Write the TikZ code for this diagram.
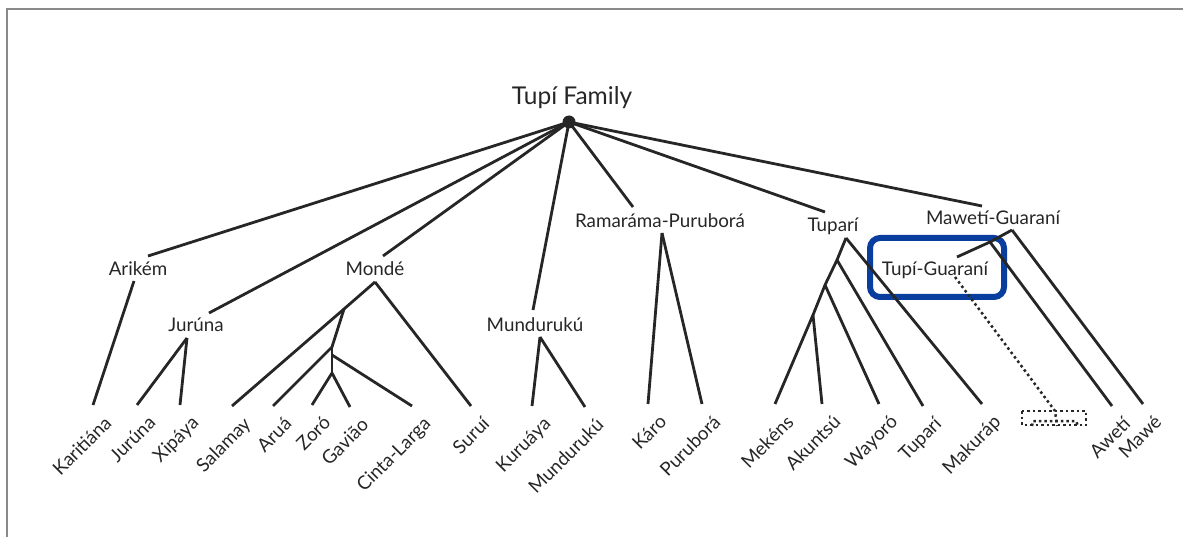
\documentclass[tikz,border=0pt]{standalone}
\usepackage{fontspec}
\setmainfont{Lato}
\usetikzlibrary{positioning}
\definecolor{ink}{HTML}{262626}
\definecolor{boxblue}{RGB}{10,62,158}
\definecolor{rule}{HTML}{8A8A8A}
\tikzstyle{title} = [inner sep=1pt,text=ink,font=\fontsize{24.5}{26}\selectfont]
\tikzstyle{group} = [inner sep=1pt,text=ink,font=\fontsize{18.8}{20}\selectfont]
\tikzstyle{lang} = [inner sep=1pt,text=ink,xshift=10pt,yshift=-8pt,rotate=45,anchor=north east,font=\fontsize{18.8}{20}\selectfont]
\tikzstyle{root} = [circle,fill=ink,inner sep=0,minimum size=13pt]
\tikzstyle{branch} = [-,line width=2.8pt,draw=ink]
\tikzstyle{hidden} = [-,line width=2.5pt,draw=ink,dash pattern=on 2.5pt off 3pt]
\tikzstyle{focus} = [draw=boxblue,line width=6pt,rounded corners=10pt,minimum width=134pt,minimum height=59pt]
\tikzstyle{frame} = [line width=1.5pt,draw=rule]
\def \lo {405}

\begin{document}
\begin{tikzpicture}[x=1pt,y=-1pt]
  \useasboundingbox (0,0) rectangle (1183,537);
  \draw[frame] (7,537) -- (7,9) -- (1183,9);
  % family and its branches
  \node[title] (family) at (572,98) {Tupí Family};
  \node[root] (tupi) at (569,122) {};
  \node[group] (arikem) at (138,269) {Arikém};
  \node[group] (jurunagrp) at (196,325) {Jurúna};
  \node[group] (monde) at (375,269) {Mondé};
  \node[group] (mundurukugrp) at (535,325) {Mundurukú};
  \node[group] (ramarama) at (660,221) {Ramaráma-Puruborá};
  \node[group] (taparigrp) at (833,226) {Tuparí};
  \node[group] (maweti) at (993,218) {Mawetí-Guaraní};
  \node[group] (tupiguarani) at (935,270) {Tupí-Guaraní};
  \node[focus] (tgbox) at (937,267.5) {};
  \coordinate (arikem-t) at (148,256);
  \coordinate (arikem-b) at (134,281);
  \coordinate (jurunagrp-t) at (209,313);
  \coordinate (jurunagrp-b) at (187,338);
  \coordinate (monde-t) at (383,256);
  \coordinate (monde-b) at (375,282);
  \coordinate (mundurukugrp-t) at (533,310);
  \coordinate (mundurukugrp-b) at (540,337);
  \coordinate (ramarama-t) at (633,207);
  \coordinate (ramarama-b) at (662,233);
  \coordinate (taparigrp-t) at (825,212);
  \coordinate (taparigrp-b) at (846,238);
  \coordinate (maweti-t) at (982,206);
  \coordinate (maweti-b) at (1012,230);
  \coordinate (tupiguarani-t) at (957,257);
  \coordinate (tupiguarani-b) at (955,277);
  % inner splits
  \coordinate (m1) at (344,309);
  \coordinate (m2) at (332,347);
  \coordinate (m3) at (332,355);
  \coordinate (m4) at (332,373);
  \coordinate (t1) at (837,260);
  \coordinate (t2) at (825,285);
  \coordinate (t3) at (813,315);
  \coordinate (g1) at (990,242);
  % leaves
  \coordinate (karitiana) at (93,\lo);
  \coordinate (jurunalf) at (137,\lo);
  \coordinate (xipaya) at (180,\lo);
  \coordinate (salamay) at (232,406);
  \coordinate (arua) at (273,406);
  \coordinate (zoro) at (312,\lo);
  \coordinate (gaviao) at (350,407);
  \coordinate (cintalarga) at (412,406);
  \coordinate (surui) at (471,406);
  \coordinate (kuruaya) at (532,406);
  \coordinate (mundurukulf) at (585,407);
  \coordinate (karo) at (648,404);
  \coordinate (purubora) at (702,404);
  \coordinate (mekens) at (775,404);
  \coordinate (akuntsu) at (822,404);
  \coordinate (wayoro) at (879,404);
  \coordinate (tuparilf) at (923,406);
  \coordinate (makurap) at (982,404);
  \coordinate (hole) at (1055,411);
  \coordinate (aweti) at (1112,406);
  \coordinate (mawe) at (1143,404);
  \node[lang] at (karitiana) {Karitiána};
  \node[lang] at (jurunalf) {Jurúna};
  \node[lang] at (xipaya) {Xipáya};
  \node[lang] at (salamay) {Salamay};
  \node[lang] at (arua) {Aruá};
  \node[lang] at (zoro) {Zoró};
  \node[lang] at (gaviao) {Gavião};
  \node[lang] at (cintalarga) {Cinta-Larga};
  \node[lang] at (surui) {Suruí};
  \node[lang] at (kuruaya) {Kuruáya};
  \node[lang] at (mundurukulf) {Mundurukú};
  \node[lang] at (karo) {Káro};
  \node[lang] at (purubora) {Puruborá};
  \node[lang] at (mekens) {Mekéns};
  \node[lang] at (akuntsu) {Akuntsú};
  \node[lang] at (wayoro) {Wayoró};
  \node[lang] at (tuparilf) {Tuparí};
  \node[lang] at (makurap) {Makuráp};
  \node[lang] at (aweti) {Awetí};
  \node[lang] at (mawe) {Mawé};
  % edges
  \draw[branch] (tupi.center) -- (arikem-t);
  \draw[branch] (tupi.center) -- (jurunagrp-t);
  \draw[branch] (tupi.center) -- (monde-t);
  \draw[branch] (tupi.center) -- (mundurukugrp-t);
  \draw[branch] (tupi.center) -- (ramarama-t);
  \draw[branch] (tupi.center) -- (taparigrp-t);
  \draw[branch] (tupi.center) -- (maweti-t);
  \draw[branch] (arikem-b) -- (karitiana);
  \draw[branch] (jurunagrp-b) -- (jurunalf);
  \draw[branch] (jurunagrp-b) -- (xipaya);
  \draw[branch] (monde-b) -- (surui);
  \draw[branch] (monde-b) -- (m1) -- (salamay);
  \draw[branch] (m1) -- (m2) -- (arua);
  \draw[branch] (m2) -- (m4);
  \draw[branch] (m3) -- (cintalarga);
  \draw[branch] (m4) -- (zoro);
  \draw[branch] (m4) -- (gaviao);
  \draw[branch] (mundurukugrp-b) -- (kuruaya);
  \draw[branch] (mundurukugrp-b) -- (mundurukulf);
  \draw[branch] (ramarama-b) -- (karo);
  \draw[branch] (ramarama-b) -- (purubora);
  \draw[branch] (taparigrp-b) -- (makurap);
  \draw[branch] (taparigrp-b) -- (t1) -- (t2) -- (t3) -- (mekens);
  \draw[branch] (t1) -- (tuparilf);
  \draw[branch] (t2) -- (wayoro);
  \draw[branch] (t3) -- (akuntsu);
  \draw[branch] (maweti-b) -- (mawe);
  \draw[branch] (maweti-b) -- (g1) -- (aweti);
  \draw[branch] (g1) -- (tupiguarani-t);
  \draw[hidden] (tupiguarani-b) -- (hole) -- ++(2,15);
  \draw[hidden] (1022,411) rectangle (1086,425);
  \draw[hidden] (1032,426) -- (1033,421) -- (1076,421) -- (1078,426);
\end{tikzpicture}
\end{document}
